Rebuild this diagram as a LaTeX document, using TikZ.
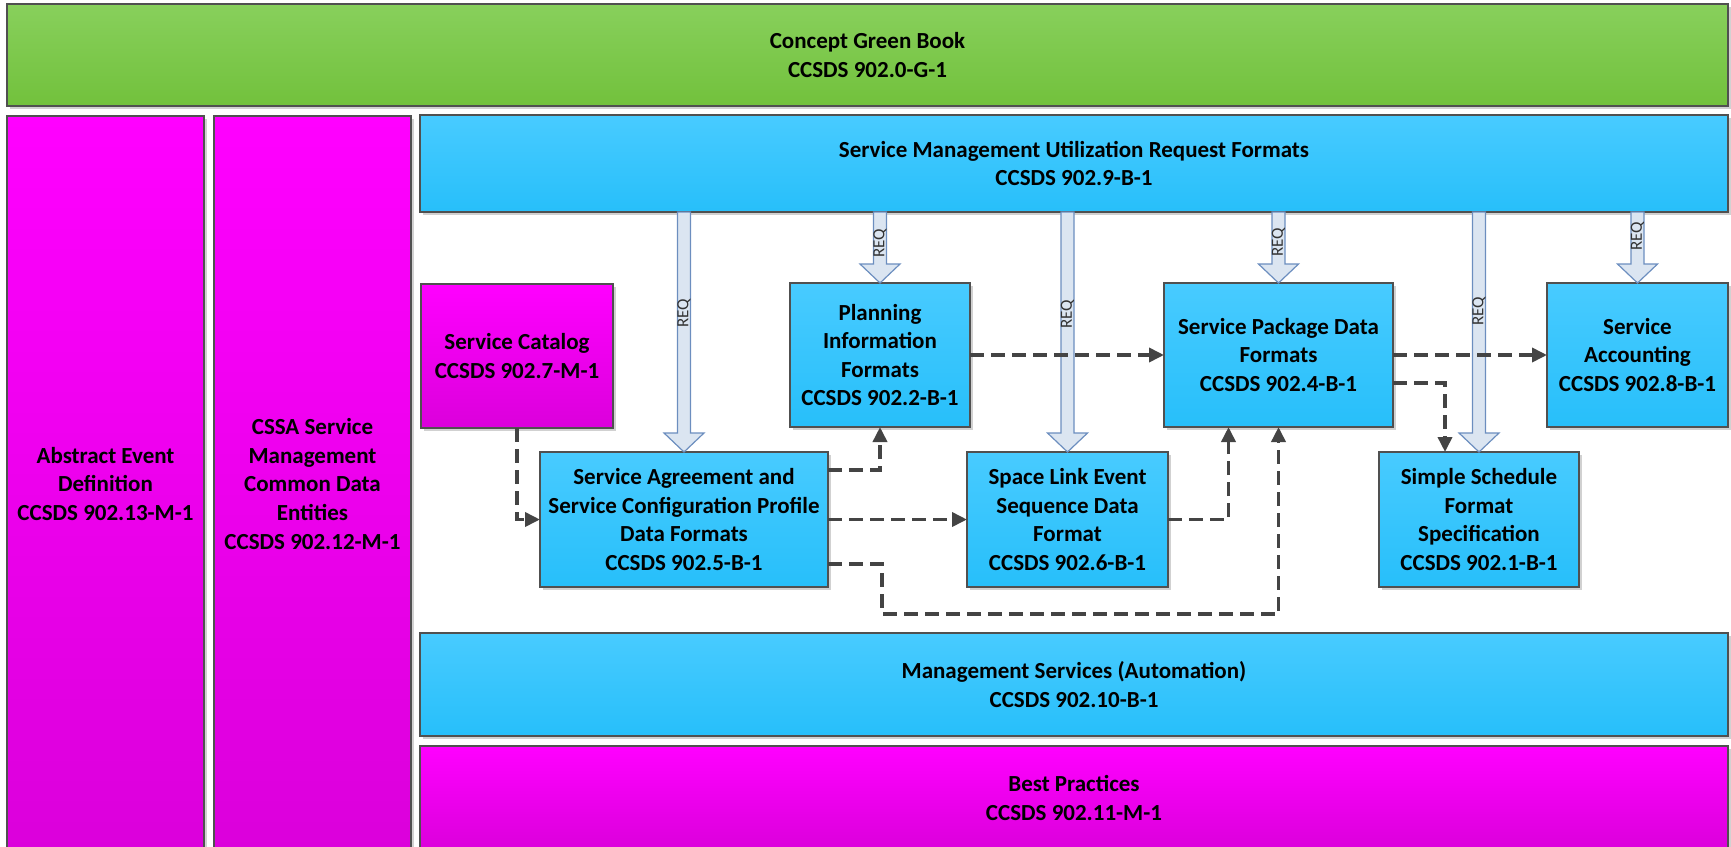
\documentclass[tikz,border=0pt]{standalone}
\usepackage{fontspec}
\setmainfont{Carlito}
\usetikzlibrary{arrows.meta,shadows,calc}
\definecolor{bordc}{HTML}{505050}
\definecolor{bluetop}{HTML}{48CBFF}
\definecolor{bluebot}{HTML}{27BFFA}
\definecolor{magtop}{HTML}{FF00FF}
\definecolor{magbot}{HTML}{DB00DB}
\definecolor{grntop}{HTML}{88D05C}
\definecolor{grnbot}{HTML}{72C13C}
\definecolor{reqfill}{HTML}{DBE5F1}
\definecolor{reqdraw}{HTML}{6C8EBF}
\definecolor{depc}{HTML}{444444}
\newcommand\mkbox[7]{\node[#1, minimum width={(#5-#3)*1pt}, minimum height={(#6-#4)*1pt}] (#2) at ({(#3+#5)/2},{(#4+#6)/2}) {#7};}
\newcommand\req[2]{%
  \draw[reqarrow] let \p1=(#1.north), \p2=(util.south) in
    (\x1-6.5pt,\y2) -- (\x1-6.5pt,\y1+19pt) -- (\x1-20pt,\y1+19pt) -- (\x1,\y1)
    -- (\x1+20pt,\y1+19pt) -- (\x1+6.5pt,\y1+19pt) -- (\x1+6.5pt,\y2) -- cycle
    node[reqlabel] at (\x1,-#2pt) {REQ};}
\begin{document}
\begin{tikzpicture}[x=1pt,y=-1pt,
  box/.style={draw=bordc, line width=1.6pt, inner sep=1pt, outer sep=0pt, align=center,
    font={\fontsize{23}{28.5}\selectfont\bfseries},
    drop shadow={shadow xshift=2.5pt, shadow yshift=-2.5pt, opacity=0.18, fill=black}},
  bluebox/.style={box, top color=bluetop, bottom color=bluebot},
  magbox/.style={box, top color=magtop, bottom color=magbot},
  grnbox/.style={box, top color=grntop, bottom color=grnbot},
  reqarrow/.style={draw=reqdraw, fill=reqfill, line width=1.2pt, line join=miter},
  reqlabel/.style={rotate=90, inner sep=0pt, text=black!80, font={\fontsize{17}{17}\selectfont}},
  dep/.style={draw=depc, line width=3.6pt, dash pattern=on 14pt off 7pt,
    -{Triangle[length=15pt,width=14pt]}}
]
\useasboundingbox (0,0) rectangle (1731,846);
\clip (0,0) rectangle (1731,846);

\mkbox{grnbox}{green}{7}{4}{1728}{106}{Concept Green Book\\CCSDS 902.0-G-1}
\mkbox{magbox}{abs}{7}{116}{204}{852}{Abstract Event\\Definition\\CCSDS 902.13-M-1}
\mkbox{magbox}{cssa}{214}{116}{411}{852}{CSSA Service\\Management\\Common Data\\Entities\\CCSDS 902.12-M-1}
\mkbox{bluebox}{util}{420}{115}{1728}{212}{Service Management Utilization Request Formats\\CCSDS 902.9-B-1}
\mkbox{magbox}{cat}{421}{284}{613}{428}{Service Catalog\\CCSDS 902.7-M-1}
\mkbox{bluebox}{pla}{790}{283}{970}{427}{Planning\\Information\\Formats\\CCSDS 902.2-B-1}
\mkbox{bluebox}{pkg}{1164}{283}{1393}{427}{Service Package Data\\Formats\\CCSDS 902.4-B-1}
\mkbox{bluebox}{acc}{1547}{283}{1728}{427}{Service\\Accounting\\CCSDS 902.8-B-1}
\mkbox{bluebox}{agr}{540}{452}{828}{587}{Service Agreement and\\Service Configuration Profile\\Data Formats\\CCSDS 902.5-B-1}
\mkbox{bluebox}{sle}{967}{452}{1168}{587}{Space Link Event\\Sequence Data\\Format\\CCSDS 902.6-B-1}
\mkbox{bluebox}{sch}{1379}{452}{1579}{587}{Simple Schedule\\Format\\Specification\\CCSDS 902.1-B-1}
\mkbox{bluebox}{mgmt}{420}{633}{1728}{736}{Management Services (Automation)\\CCSDS 902.10-B-1}
\mkbox{magbox}{best}{420}{746}{1728}{850}{Best Practices\\CCSDS 902.11-M-1}

% REQ arrows
\req{agr}{313}
\req{pla}{243}
\req{sle}{314}
\req{pkg}{242}
\req{sch}{311}
\req{acc}{236}

% dependencies
\coordinate (bend) at (882,614);
\draw[dep] (cat.south) |- (agr.west);
\draw[dep] ([yshift=49.5pt]agr.east) -| (pla.south);
\draw[dep] (agr.east) -- (sle.west);
\draw[dep] ([yshift=-44.5pt]agr.east) -| (bend) -| (pkg.south);
\draw[dep] (sle.east) -| ([xshift=-50pt]pkg.south);
\draw[dep] (pla.east) -- (pkg.west);
\draw[dep] (pkg.east) -- (acc.west);
\draw[dep] ([yshift=-28pt]pkg.east) -| ([xshift=-34pt]sch.north);
\end{tikzpicture}
\end{document}
